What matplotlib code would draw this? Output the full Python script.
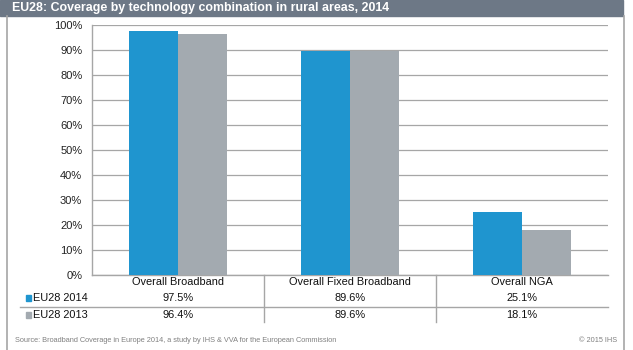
import matplotlib
matplotlib.use("Agg")
import matplotlib.pyplot as plt
from matplotlib.patches import Rectangle
from matplotlib.lines import Line2D
from matplotlib.ticker import PercentFormatter
import numpy as np

plt.rcParams['font.family'] = ['Liberation Sans', 'DejaVu Sans']

title = "EU28: Coverage by technology combination in rural areas, 2014"
categories = ["Overall Broadband", "Overall Fixed Broadband", "Overall NGA"]
series_names = ["EU28 2014", "EU28 2013"]
eu28_2014 = [97.5, 89.6, 25.1]
eu28_2013 = [96.4, 89.6, 18.1]
source = "Source: Broadband Coverage in Europe 2014, a study by IHS & VVA for the European Commission"
copyright = "\u00a9 2015 IHS"

blue = "#1f95cf"
grey = "#a3aab0"
line_c = "#a6a6a6"
W, H = 633, 350

fig = plt.figure(figsize=(W / 100, H / 100), dpi=100)
fig.patch.set_facecolor("white")

# title bar and side borders
fig.patches.append(Rectangle((0, 1 - 16 / H), 623 / W, 16 / H, transform=fig.transFigure,
                             color="#6d7886", zorder=0))
fig.text(12 / W, 1 - 8 / H, title, color="white", fontsize=8.9, fontweight="bold",
         va="center", ha="left")
for px in (7.5, 623.5):
    fig.lines.append(Line2D([px / W, px / W], [0, 1 - 16 / H], transform=fig.transFigure,
                            color=line_c, lw=1.2))

ax = fig.add_axes([92 / W, (H - 275) / H, 516 / W, 250 / H])
x = np.arange(len(categories))
bw = 0.285
ax.bar(x - bw / 2, eu28_2014, bw, color=blue, zorder=3)
ax.bar(x + bw / 2, eu28_2013, bw, color=grey, zorder=3)

ax.set_xlim(-0.5, len(categories) - 0.5)
ax.set_ylim(0, 100)
ax.set_yticks(np.arange(0, 101, 10))
ax.yaxis.set_major_formatter(PercentFormatter(decimals=0))
ax.tick_params(axis="y", length=0, pad=7, labelsize=8, labelcolor="#222222")
ax.set_xticks([])
ax.grid(axis="y", color=line_c, lw=0.9, zorder=0)
for s in ("top", "right"):
    ax.spines[s].set_visible(False)
for s in ("left", "bottom"):
    ax.spines[s].set_color(line_c)
    ax.spines[s].set_linewidth(1)

# data table under the chart
tr = ax.get_xaxis_transform()
row_y = [-0.028, -0.092, -0.16]
fs = 7.9
for i, cat in enumerate(categories):
    ax.text(x[i], row_y[0], cat, transform=tr, ha="center", va="center", fontsize=fs,
            color="#111111", clip_on=False)
    ax.text(x[i], row_y[1], f"{eu28_2014[i]:.1f}%", transform=tr, ha="center", va="center",
            fontsize=fs, color="#111111", clip_on=False)
    ax.text(x[i], row_y[2], f"{eu28_2013[i]:.1f}%", transform=tr, ha="center", va="center",
            fontsize=fs, color="#111111", clip_on=False)
for sep in x[:-1] + 0.5:
    ax.add_line(Line2D([sep, sep], [0, -0.188], transform=tr, color=line_c, lw=1,
                       clip_on=False))
ax.add_line(Line2D([-0.1395, 1.0], [-0.128, -0.128], transform=ax.transAxes, color=line_c,
                   lw=1, clip_on=False))

for name, c, yy in zip(series_names, [blue, grey], row_y[1:]):
    ax.add_patch(Rectangle((-0.128, yy - 0.012), 0.0095, 0.024, transform=ax.transAxes,
                           color=c, clip_on=False))
    ax.text(-0.114, yy, name, transform=ax.transAxes, ha="left", va="center", fontsize=fs,
            color="#111111", clip_on=False)

fig.text(15 / W, 10 / H, source, fontsize=5.3, color="#808080", ha="left", va="center")
fig.text(617 / W, 10 / H, copyright, fontsize=5.3, color="#808080", ha="right", va="center")

fig.savefig("out.png", dpi=100)
